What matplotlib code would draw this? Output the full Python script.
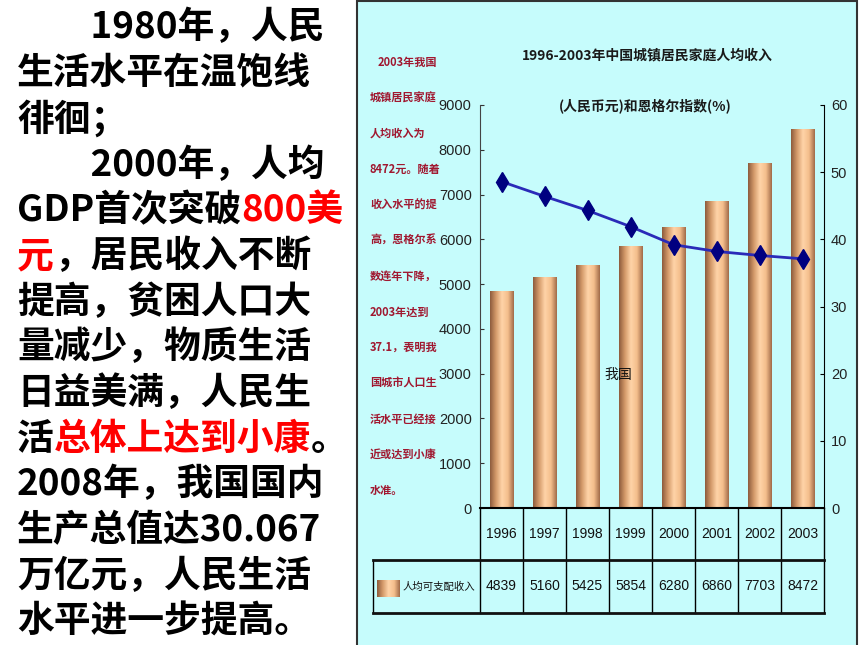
import matplotlib.pyplot as plt
import numpy as np
from matplotlib.colors import LinearSegmentedColormap
from matplotlib.patches import Rectangle

# chart data
years = ['1996', '1997', '1998', '1999', '2000', '2001', '2002', '2003']
income = [4839, 5160, 5425, 5854, 6280, 6860, 7703, 8472]
engel = [48.6, 46.4, 44.3, 41.9, 39.2, 38.2, 37.6, 37.1]
income_ticks = [0, 1000, 2000, 3000, 4000, 5000, 6000, 7000, 8000, 9000]
engel_ticks = [0, 10, 20, 30, 40, 50, 60]

title_lines = ['1996-2003年中国城镇居民家庭人均收入', '(人民币元)和恩格尔指数(%)']
series_label = '人均可支配收入'
bar_note = '我国'
note_lines = ['2003年我国', '城镇居民家庭', '人均收入为', '8472元。随着', '收入水平的提',
              '高，恩格尔系', '数连年下降，', '2003年达到', '37.1，表明我', '国城市人口生',
              '活水平已经接', '近或达到小康', '水准。']

# slide text, (piece, colour) per line
slide_lines = [
    [('\u3000\u30001980年，人民', 'k')],
    [('生活水平在温饱线', 'k')],
    [('徘徊；', 'k')],
    [('\u3000\u30002000年，人均', 'k')],
    [('GDP首次突破', 'k'), ('800美', 'r')],
    [('元', 'r'), ('，居民收入不断', 'k')],
    [('提高，贫困人口大', 'k')],
    [('量减少，物质生活', 'k')],
    [('日益美满，人民生', 'k')],
    [('活', 'k'), ('总体上达到小康', 'r'), ('。', 'k')],
    [('2008年，我国国内', 'k')],
    [('生产总值达30.067', 'k')],
    [('万亿元，人民生活', 'k')],
    [('水平进一步提高。', 'k')],
]

CJK = ['Noto Sans CJK SC', 'DejaVu Sans']
NARROW = ['Liberation Sans Narrow', 'Liberation Sans', 'DejaVu Sans']
plt.rcParams['font.family'] = CJK

fig = plt.figure(figsize=(8.6, 6.45), dpi=100)
fig.patch.set_facecolor('white')

# overlay in pixel coords (0,0 top left)
tx = fig.add_axes([0, 0, 1, 1], zorder=0)
tx.axis('off')

tx.add_patch(Rectangle((357, 1), 500, 650, facecolor='#C6FCFC', edgecolor='#333333', lw=1.5, zorder=1))

# left slide text
prev = None
for i, line in enumerate(slide_lines):
    y = 28 + 45.7 * i
    prev = None
    for piece, c in line:
        col = '#FF0000' if c == 'r' else '#000000'
        if prev is None:
            prev = tx.text(17, y, piece, fontsize=26.5, fontweight='bold', color=col,
                           ha='left', va='center')
        else:
            prev = tx.annotate(piece, xy=(1, 0), xycoords=prev, fontsize=26.5,
                               fontweight='bold', color=col, ha='left', va='bottom')

# chart title
tx.text(647, 55, title_lines[0], fontsize=10, fontweight='bold', color='#1a1a1a',
        ha='center', va='center')
tx.text(645, 106, title_lines[1], fontsize=10, fontweight='bold', color='#1a1a1a',
        ha='center', va='center')

# red note
for i, s in enumerate(note_lines):
    x0 = 378 if i == 0 else 370
    tx.text(x0, 62 + 35.7 * i, s, fontsize=8, fontweight='bold', color='#A01830',
            ha='left', va='center')

# legend swatch
grad = np.linspace(0, 1, 256).reshape(1, -1)
cmap = LinearSegmentedColormap.from_list('barg', ['#8C5A3C', '#D49A6A', '#FFD4A8', '#F4BE8C', '#A06A48'])
tx.imshow(grad, cmap=cmap, extent=[377, 400, 597, 580], aspect='auto', zorder=3)
tx.set_xlim(0, 860)
tx.set_ylim(645, 0)

# main chart
ax = fig.add_axes([480 / 860, (645 - 508) / 645, (824 - 480) / 860, (508 - 105) / 645], zorder=2)
ax.set_facecolor('none')
x = np.arange(len(years))
bars = ax.bar(x, income, width=0.55, color='none', edgecolor='none', zorder=2)
for b in bars:
    im = ax.imshow(grad, cmap=cmap, aspect='auto', zorder=2,
                   extent=[b.get_x(), b.get_x() + b.get_width(), 0, b.get_height()])
    im.set_clip_path(b)

ax.set_xlim(-0.5, len(years) - 0.5)
ax.set_ylim(0, 9000)
ax.set_yticks(income_ticks)
ax.set_yticklabels([str(t) for t in income_ticks], family=NARROW, fontsize=10.5, color='#222222')
ax.set_xticks([])
ax.tick_params(axis='y', direction='in', length=3, pad=6, color='#333333')
for s in ['top', 'right']:
    ax.spines[s].set_visible(False)
ax.spines['left'].set_color('#444444')
ax.spines['bottom'].set_linewidth(1.5)

ax.text(2.71, 2970, bar_note, fontsize=10, ha='center', va='center', color='#111111')

# table under the chart
xt = ax.get_xaxis_transform()
r1 = -(560 - 508) / 403
r2 = -(613 - 508) / 403
tleft = -0.5 - (480 - 373) / 43
n = len(years)
for k in range(n + 1):
    ax.plot([k - 0.5, k - 0.5], [0, r2], color='black', lw=1, transform=xt, clip_on=False)
ax.plot([tleft, tleft], [r1, r2], color='black', lw=1, transform=xt, clip_on=False)
ax.plot([tleft, n - 0.5], [r1, r1], color='#111111', lw=2, transform=xt, clip_on=False)
ax.plot([tleft, n - 0.5], [r2, r2], color='#111111', lw=2, transform=xt, clip_on=False)
for i in range(n):
    ax.text(i, r1 / 2, years[i], transform=xt, ha='center', va='center',
            family=NARROW, fontsize=10, color='#111111')
    ax.text(i, (r1 + r2) / 2, str(income[i]), transform=xt, ha='center', va='center',
            family=NARROW, fontsize=10, color='#111111')
ax.text(-0.5 - (480 - 403) / 43, (r1 + r2) / 2, series_label, transform=xt, ha='left',
        va='center', fontsize=7.5, color='#111111')

# engel coefficient
ax2 = ax.twinx()
ax2.plot(x, engel, color='#2A2AB8', lw=2, marker='d', markersize=10,
         markerfacecolor='#000080', markeredgecolor='#000080', zorder=3)
ax2.set_ylim(0, 60)
ax2.set_yticks(engel_ticks)
ax2.set_yticklabels([str(t) for t in engel_ticks], family=NARROW, fontsize=10.5, color='#222222')
ax2.tick_params(axis='y', direction='in', length=3, pad=5)
for s in ['top', 'left', 'bottom']:
    ax2.spines[s].set_visible(False)

fig.savefig('out.png', dpi=100)
